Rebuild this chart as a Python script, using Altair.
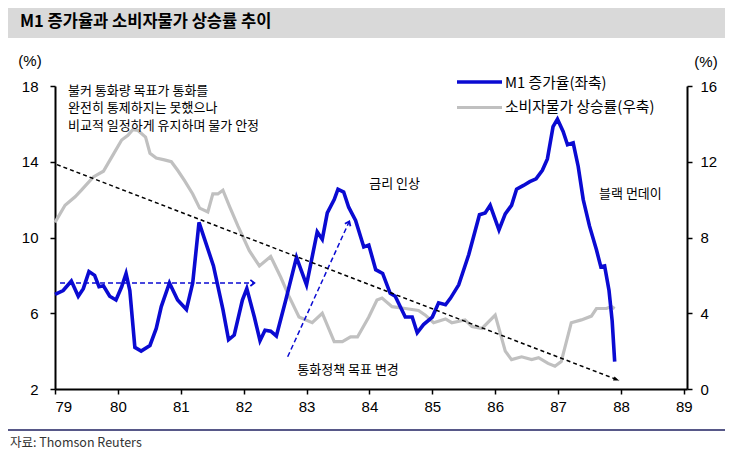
import math
import altair as alt
import pandas as pd

# ---------------- data ----------------
m1_year = [79.00, 79.13, 79.26, 79.37, 79.45, 79.54, 79.63, 79.70, 79.77, 79.87,
           79.97, 80.06, 80.13, 80.19, 80.27, 80.37, 80.51, 80.61, 80.69, 80.82,
           80.95, 81.09, 81.19, 81.29, 81.52, 81.67, 81.76, 81.85, 81.98, 82.05,
           82.17, 82.26, 82.34, 82.43, 82.52, 82.67, 82.84, 83.00, 83.17, 83.25,
           83.33, 83.44, 83.50, 83.59, 83.67, 83.78, 83.91, 83.99, 84.10, 84.21,
           84.33, 84.41, 84.57, 84.68, 84.76, 84.86, 85.00, 85.10, 85.21, 85.29,
           85.42, 85.58, 85.75, 85.84, 85.92, 86.06, 86.16, 86.26, 86.34, 86.45,
           86.55, 86.65, 86.75, 86.83, 86.92, 86.99, 87.08, 87.15, 87.24, 87.32,
           87.40, 87.50, 87.61, 87.68, 87.74, 87.81, 87.86, 87.90]
m1_value = [7.0, 7.2, 7.7, 6.9, 7.3, 8.2, 8.0, 7.4, 7.45, 6.9,
            6.7, 7.4, 8.1, 7.2, 4.2, 4.0, 4.3, 5.2, 6.35, 7.6,
            6.7, 6.2, 7.6, 10.8, 8.5, 6.2, 4.6, 4.85, 6.7, 7.3,
            5.8, 4.55, 5.1, 5.05, 4.8, 6.7, 8.95, 7.5, 10.3, 9.9,
            11.3, 12.0, 12.55, 12.4, 11.6, 10.9, 9.5, 9.6, 8.3, 8.1,
            7.05, 6.9, 5.8, 5.8, 4.97, 5.4, 5.8, 6.55, 6.45, 6.8,
            7.5, 9.1, 11.2, 11.3, 11.7, 10.4, 11.25, 11.7, 12.55, 12.75,
            12.95, 13.1, 13.55, 14.15, 15.85, 16.25, 15.6, 14.9, 15.0, 13.75,
            12.0, 10.6, 9.35, 8.45, 8.5, 7.2, 5.6, 3.45]

cpi_year = [79.00, 79.16, 79.32, 79.42, 79.61, 79.77, 79.92, 80.06, 80.16, 80.24,
            80.32, 80.44, 80.51, 80.61, 80.74, 80.85, 80.95, 81.06, 81.19, 81.30,
            81.43, 81.51, 81.59, 81.67, 81.78, 81.91, 82.09, 82.25, 82.43, 82.59,
            82.72, 82.88, 83.09, 83.25, 83.44, 83.57, 83.70, 83.81, 83.99, 84.12,
            84.20, 84.36, 84.57, 84.78, 84.89, 85.02, 85.21, 85.31, 85.52, 85.63,
            85.79, 86.00, 86.16, 86.26, 86.42, 86.58, 86.69, 86.84, 86.95, 87.05,
            87.21, 87.37, 87.53, 87.61, 87.77, 87.85, 87.90]
cpi_value = [8.8, 9.7, 10.15, 10.5, 11.2, 11.5, 12.35, 13.15, 13.4, 13.7,
             13.65, 13.3, 12.45, 12.2, 12.1, 12.0, 11.55, 11.0, 10.3, 9.55,
             9.35, 10.3, 10.3, 10.5, 9.6, 8.6, 7.3, 6.5, 7.0, 5.9,
             4.9, 3.8, 3.5, 4.0, 2.5, 2.5, 2.75, 2.75, 3.8, 4.7,
             4.8, 4.35, 4.25, 4.15, 3.9, 3.5, 3.7, 3.5, 3.65, 3.3,
             3.2, 3.9, 2.0, 1.55, 1.7, 1.55, 1.65, 1.35, 1.2, 1.45,
             3.5, 3.65, 3.85, 4.25, 4.25, 4.35, 4.25]

x_ticks = [79, 80, 81, 82, 83, 84, 85, 86, 87, 88, 89]
left_ticks = [2, 6, 10, 14, 18]
right_ticks = [0, 4, 8, 12, 16]

series_names = ["M1 증가율(좌축)", "소비자물가 상승률(우축)"]
title_text = "M1 증가율과 소비자물가 상승률 추이"
source_text = "자료: Thomson Reuters"
note_lines = ["불커 통화량 목표가 통화를", "완전히 통제하지는 못했으나", "비교적 일정하게 유지하며 물가 안정"]

# annotation anchors (chart coordinates: year, left-axis %)
ann_text = ["금리 인상", "블랙 먼데이", "통화정책 목표 변경"]
ann_x = [84.40, 88.15, 83.66]
ann_y = [12.8, 12.3, 3.0]

# arrows: start/end in chart coordinates (year, left-axis %)
arrow_x0 = [79.08, 82.70, 79.03]
arrow_y0 = [7.6, 3.7, 13.85]
arrow_x1 = [82.17, 83.68, 87.97]
arrow_y1 = [7.6, 10.85, 2.45]

# ---------------- layout / style ----------------
W, H = 632, 303
XDOM = [79, 89.05]
YL = [2, 18]
YR = [0, 16]
BLUE = "#0a0ad2"
GRAY = "#c0c0c0"
NUM_FONT = "Liberation Sans Narrow, Arial Narrow, Liberation Sans"
KR_FONT = "Noto Sans CJK KR"

px_x = W / (XDOM[1] - XDOM[0])
px_y = H / (YL[1] - YL[0])


def xenc(field):
    return alt.X(f"{field}:Q",
                 scale=alt.Scale(domain=XDOM, nice=False, zero=False),
                 axis=alt.Axis(values=x_ticks, format="d", title=None, grid=False,
                               labelFont=NUM_FONT, labelFontSize=15, labelColor="black",
                               domainColor="black", domainWidth=2, tickColor="black",
                               tickWidth=1.5, tickSize=5, labelPadding=5))


def yleft(field, axis=False):
    ax = (alt.Axis(orient="left", values=left_ticks, title=None, grid=False,
                   labelFont=NUM_FONT, labelFontSize=15, labelColor="black",
                   domainColor="black", domainWidth=2, tickColor="black",
                   tickWidth=1.5, tickSize=5, labelPadding=12)
          if axis else None)
    return alt.Y(f"{field}:Q", scale=alt.Scale(domain=YL, nice=False, zero=False), axis=ax)


m1_df = pd.DataFrame({"year": m1_year, "v": m1_value})
cpi_df = pd.DataFrame({"year": cpi_year, "v": cpi_value})
arr_df = pd.DataFrame({"x0": arrow_x0, "y0": arrow_y0, "x1": arrow_x1, "y1": arrow_y1,
                       "kind": ["blue", "blue", "black"]})
ann_df = pd.DataFrame({"t": ann_text, "tx": ann_x, "ty": ann_y})
one = pd.DataFrame({"a": [0]})

cpi_line = alt.Chart(cpi_df).mark_line(color=GRAY, strokeWidth=3.2).encode(
    x=xenc("year"),
    y=alt.Y("v:Q", scale=alt.Scale(domain=YR, nice=False, zero=False),
            axis=alt.Axis(orient="right", values=right_ticks, title=None, grid=False,
                          labelFont=NUM_FONT, labelFontSize=15, labelColor="black",
                          domainColor="black", domainWidth=2, tickColor="black",
                          tickWidth=1.5, tickSize=5, labelPadding=8)),
)

m1_line = alt.Chart(m1_df).mark_line(color=BLUE, strokeWidth=3.6).encode(
    x=xenc("year"), y=yleft("v", axis=True))

blue_arrows = alt.Chart(arr_df).transform_filter(alt.datum.kind == "blue").mark_rule(
    color=BLUE, strokeWidth=1.5, strokeDash=[5, 3]).encode(
    x=xenc("x0"), x2="x1:Q", y=yleft("y0"), y2="y1:Q")

black_arrow = alt.Chart(arr_df).transform_filter(alt.datum.kind == "black").mark_rule(
    color="black", strokeWidth=1.5, strokeDash=[4, 3]).encode(
    x=xenc("x0"), x2="x1:Q", y=yleft("y0"), y2="y1:Q")


def heading(i):
    dx = (arrow_x1[i] - arrow_x0[i]) * px_x
    dy = -(arrow_y1[i] - arrow_y0[i]) * px_y
    return math.degrees(math.atan2(dx, -dy)) % 360


heads = []
for i in range(3):
    if i < 2:
        mk = alt.Chart(arr_df.iloc[[i]]).mark_point(
            shape="M -0.5 0.65 L 0 0 L 0.5 0.65", filled=False, stroke=BLUE,
            strokeWidth=1.8, size=150, opacity=1, angle=heading(i))
    else:
        mk = alt.Chart(arr_df.iloc[[i]]).mark_point(
            shape="M 0 0 L -0.38 1 L 0.38 1 Z", filled=True, color="black",
            size=130, opacity=1, angle=heading(i))
    heads.append(mk.encode(x=xenc("x1"), y=yleft("y1")))

ann = alt.Chart(ann_df).mark_text(font=KR_FONT, fontSize=13, color="black").encode(
    x=xenc("tx"), y=yleft("ty"), text="t:N")

note = alt.Chart(one).mark_text(text=note_lines, font=KR_FONT, fontSize=13, color="black",
                                align="left", baseline="middle", lineHeight=17.5).encode(
    x=alt.value(13), y=alt.value(4.5))

# legend
leg_blue = alt.Chart(one).mark_rule(color=BLUE, strokeWidth=3.6).encode(
    x=alt.value(402), x2=alt.value(447), y=alt.value(-4), y2=alt.value(-4))
leg_gray = alt.Chart(one).mark_rule(color=GRAY, strokeWidth=3.2).encode(
    x=alt.value(402), x2=alt.value(447), y=alt.value(21.5), y2=alt.value(21.5))
leg_t1 = alt.Chart(one).mark_text(text=series_names[0], font=KR_FONT, fontSize=14.8,
                                  align="left", baseline="middle", color="black").encode(
    x=alt.value(450), y=alt.value(-2))
leg_t2 = alt.Chart(one).mark_text(text=series_names[1], font=KR_FONT, fontSize=14.8,
                                  align="left", baseline="middle", color="black").encode(
    x=alt.value(450), y=alt.value(22))

# units
unit_l = alt.Chart(one).mark_text(text="(%)", font="Liberation Sans", fontSize=15,
                                  baseline="middle", color="black").encode(
    x=alt.value(-25), y=alt.value(-25))
unit_r = alt.Chart(one).mark_text(text="(%)", font="Liberation Sans", fontSize=15,
                                  baseline="middle", color="black").encode(
    x=alt.value(651), y=alt.value(-24))

# title bar
bar = alt.Chart(one).mark_rect(color="#d9d9d9").encode(
    x=alt.value(-47), x2=alt.value(670), y=alt.value(-78), y2=alt.value(-48))
title = alt.Chart(one).mark_text(text=title_text, font=KR_FONT, fontSize=16.5,
                                 fontWeight="bold", align="left", baseline="middle",
                                 color="black").encode(
    x=alt.value(-35), y=alt.value(-64))

# bottom rule and source
bottom_rule = alt.Chart(one).mark_rule(color="#1f2060", strokeWidth=1.5).encode(
    x=alt.value(-47), x2=alt.value(670), y=alt.value(344), y2=alt.value(344))
source = alt.Chart(one).mark_text(text=source_text, font=KR_FONT, fontSize=12.5,
                                  align="left", baseline="middle", color="#333333").encode(
    x=alt.value(-45), y=alt.value(357))

chart = alt.layer(
    bar, title, cpi_line, m1_line, blue_arrows, black_arrow, *heads, ann, note,
    leg_blue, leg_gray, leg_t1, leg_t2, unit_l, unit_r, bottom_rule, source,
).resolve_scale(y="independent").properties(
    width=W, height=H,
    autosize=alt.AutoSizeParams(type="none"),
    padding={"left": 47, "top": 78, "right": 38, "bottom": 70},
).configure_view(stroke=None)

chart.save("out.html", embed_options={"renderer": "svg", "actions": False})
